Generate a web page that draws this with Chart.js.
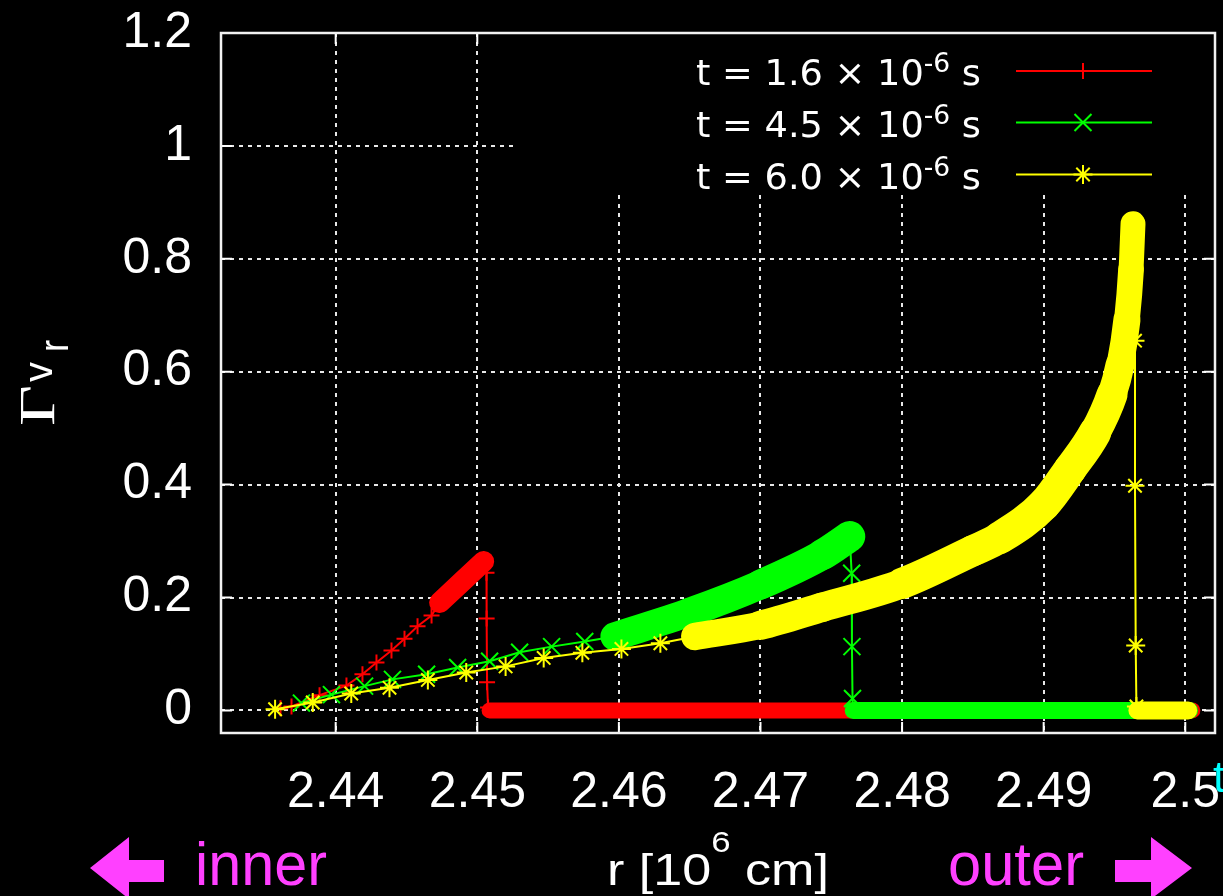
<!DOCTYPE html>
<html>
<head>
<meta charset="utf-8">
<script src="https://cdn.jsdelivr.net/npm/chart.js@4.4.1/dist/chart.umd.min.js"></script>
<style>
  html, body { margin: 0; padding: 0; background: #000; overflow: hidden; }
  canvas { display: block; background: #000; }
</style>
</head>
<body>
<canvas id="chart" width="1223" height="896"></canvas>
<script>
// axis ticks
const xTicks = [2.44, 2.45, 2.46, 2.47, 2.48, 2.49, 2.5];
const xTickLabels = ['2.44', '2.45', '2.46', '2.47', '2.48', '2.49', '2.5'];
const yTicks = [0, 0.2, 0.4, 0.6, 0.8, 1, 1.2];
const yTickLabels = ['0', '0.2', '0.4', '0.6', '0.8', '1', '1.2'];

const timeLabels = ['1.6', '4.5', '6.0'];

// t = 1.6e-6 s  (pre = sparse points, band = dense run, drop = shock jump, floor = dense run at 0)
const redPreR = [2.43610, 2.43688, 2.43886, 2.44076, 2.44189, 2.44288, 2.44394, 2.44486, 2.44578, 2.44677];
const redPreV = [0.004, 0.007, 0.027, 0.044, 0.064, 0.085, 0.106, 0.127, 0.149, 0.168];
const redBandR = [2.44734, 2.45045];
const redBandV = [0.191, 0.264];
const redDropR = [2.45065, 2.45066, 2.45069, 2.45076];
const redDropV = [0.244, 0.163, 0.050, 0.005];
const redFloorR = [2.45087, 2.50050];
const redFloorV = [0, 0];

// t = 4.5e-6 s
const greenPreR = [2.43758, 2.43970, 2.44204, 2.44401, 2.44642, 2.44861, 2.45087, 2.45299, 2.45525, 2.45759];
const greenPreV = [0.013, 0.028, 0.043, 0.055, 0.064, 0.076, 0.087, 0.103, 0.113, 0.122];
const greenBandR = [2.45970, 2.46500, 2.47001, 2.47439, 2.47630];
const greenBandV = [0.131, 0.174, 0.223, 0.276, 0.308];
const greenDropR = [2.47644, 2.47646, 2.47650];
const greenDropV = [0.243, 0.113, 0.021];
const greenFloorR = [2.47655, 2.50030];
const greenFloorV = [0, 0];

// t = 6.0e-6 s
const yellowPreR = [2.43572, 2.43838, 2.44110, 2.44380, 2.44651, 2.44922, 2.45200, 2.45469, 2.45742, 2.46018, 2.46293];
const yellowPreV = [0.002, 0.014, 0.030, 0.040, 0.054, 0.067, 0.078, 0.093, 0.102, 0.109, 0.119];
const yellowBandR = [2.46536, 2.47001, 2.47439, 2.48000, 2.48502, 2.48691, 2.49002, 2.49186, 2.49362, 2.49482, 2.49539, 2.49588, 2.49617, 2.49631];
const yellowBandV = [0.131, 0.151, 0.183, 0.225, 0.283, 0.306, 0.365, 0.427, 0.492, 0.559, 0.612, 0.692, 0.781, 0.862];
const yellowDropR = [2.49645, 2.49645, 2.49650, 2.49655];
const yellowDropV = [0.655, 0.398, 0.115, 0.007];
const yellowFloorR = [2.49662, 2.50020];
const yellowFloorV = [0, 0];

const RED = '#ff0000', GREEN = '#00ff00', YELLOW = '#ffff00', MAGENTA = '#ff40ff';

function pts(rs, vs, marked) {
  return rs.map((r, i) => ({ x: r, y: vs[i], m: marked }));
}

function thinLine(data, color, style, radius, order) {
  return {
    data: data,
    borderColor: color,
    borderWidth: 2,
    pointStyle: style,
    pointBorderColor: color,
    pointBackgroundColor: color,
    pointBorderWidth: 2,
    pointRadius: c => (c.raw && c.raw.m ? radius : 0),
    pointHoverRadius: 0,
    tension: 0,
    order: order
  };
}

// a dense run of markers looks like a thick stroke whose width depends on direction
function markerBandWidth(r) {
  return sc => {
    const dx = sc.p1.x - sc.p0.x, dy = sc.p1.y - sc.p0.y;
    const len = Math.hypot(dx, dy) || 1;
    return 2 * r * (Math.abs(dy) + Math.abs(dx)) / len + 2;
  };
}

function thickLine(data, color, width, order, widthFn) {
  const ds = {
    data: data,
    borderColor: color,
    borderWidth: width,
    pointRadius: 0,
    pointHoverRadius: 0,
    borderCapStyle: 'round',
    borderJoinStyle: 'round',
    cubicInterpolationMode: 'monotone',
    order: order
  };
  if (widthFn) ds.segment = { borderWidth: widthFn };
  return ds;
}

const datasets = [
  thinLine([...pts(redPreR, redPreV, true), ...pts(redBandR, redBandV, false),
    ...pts(redDropR, redDropV, true), ...pts(redFloorR, redFloorV, false)], RED, 'cross', 8, 9),
  thickLine(pts(redBandR, redBandV, false), RED, 21, 8),
  thickLine(pts(redFloorR, redFloorV, false), RED, 16, 7),
  thinLine([...pts(greenPreR, greenPreV, true), ...pts(greenBandR, greenBandV, false),
    ...pts(greenDropR, greenDropV, true), ...pts(greenFloorR, greenFloorV, false)], GREEN, 'crossRot', 12, 6),
  thickLine(pts(greenBandR, greenBandV, false), GREEN, 28, 5, markerBandWidth(10.5)),
  thickLine(pts(greenFloorR, greenFloorV, false), GREEN, 17, 4),
  thinLine([...pts(yellowPreR, yellowPreV, true), ...pts(yellowBandR, yellowBandV, false),
    ...pts(yellowDropR, yellowDropV, true), ...pts(yellowFloorR, yellowFloorV, false)], YELLOW, 'star', 9.5, 3),
  thickLine(pts(yellowBandR, yellowBandV, false), YELLOW, 28, 2, markerBandWidth(11)),
  thickLine(pts(yellowFloorR, yellowFloorV, false), YELLOW, 18, 1)
];

// text drawn at a given width (horizontal stretch)
function fitText(ctx, text, font, x, y, width) {
  ctx.font = font;
  const w = ctx.measureText(text).width;
  ctx.save();
  ctx.translate(x, y);
  ctx.scale(width ? width / w : 1, 1);
  ctx.fillText(text, 0, 0);
  ctx.restore();
}

function drawRuns(ctx, runs, x, base, width) {
  let w = 0;
  runs.forEach(r => { ctx.font = r.font; w += ctx.measureText(r.text).width; });
  ctx.save();
  ctx.translate(x, base);
  ctx.scale(width ? width / w : 1, 1);
  let cx = 0;
  runs.forEach(r => {
    ctx.font = r.font;
    ctx.fillText(r.text, cx, -(r.rise || 0));
    cx += ctx.measureText(r.text).width;
  });
  ctx.restore();
}

function marker(ctx, style, x, y, r) {
  ctx.beginPath();
  if (style === 'cross' || style === 'star') {
    ctx.moveTo(x - r, y); ctx.lineTo(x + r, y);
    ctx.moveTo(x, y - r); ctx.lineTo(x, y + r);
  }
  if (style === 'crossRot' || style === 'star') {
    const d = r * Math.SQRT1_2;
    ctx.moveTo(x - d, y - d); ctx.lineTo(x + d, y + d);
    ctx.moveTo(x - d, y + d); ctx.lineTo(x + d, y - d);
  }
  ctx.stroke();
}

const decor = {
  id: 'decor',
  beforeDatasetsDraw(chart) {
    const { ctx, chartArea: a, scales: { x, y } } = chart;
    ctx.save();
    ctx.strokeStyle = '#ffffff';
    ctx.lineWidth = 2;
    ctx.beginPath();
    xTicks.forEach(v => {
      const px = x.getPixelForValue(v);
      ctx.moveTo(px, a.bottom); ctx.lineTo(px, a.bottom - 11);
      ctx.moveTo(px, a.top); ctx.lineTo(px, a.top + 11);
    });
    yTicks.forEach(v => {
      const py = y.getPixelForValue(v);
      ctx.moveTo(a.left, py); ctx.lineTo(a.left + 11, py);
      ctx.moveTo(a.right, py); ctx.lineTo(a.right - 11, py);
    });
    ctx.stroke();
    // opaque key box
    ctx.fillStyle = '#000';
    ctx.fillRect(515, a.top + 1, a.right - 516, 158);
    ctx.restore();
  },
  afterDraw(chart) {
    const { ctx, chartArea: a } = chart;
    ctx.save();

    // frame
    ctx.strokeStyle = '#f2f2f2';
    ctx.lineWidth = 2.5;
    ctx.strokeRect(a.left, a.top, a.right - a.left, a.bottom - a.top);

    // key
    const colors = [RED, GREEN, YELLOW];
    const styles = ['cross', 'crossRot', 'star'];
    const radii = [8, 12, 9.5];
    const rows = [71, 122.5, 174.5];
    ctx.textBaseline = 'alphabetic';
    timeLabels.forEach((lbl, i) => {
      ctx.fillStyle = '#ffffff';
      drawRuns(ctx, [
        { text: 't = ' + lbl + ' \u00d7 10', font: '36px "DejaVu Sans"' },
        { text: '-6', font: '26px "DejaVu Sans"', rise: 13 },
        { text: ' s', font: '36px "DejaVu Sans"' }
      ], 696, rows[i] + 14, 285);
      ctx.strokeStyle = colors[i];
      ctx.lineWidth = 2;
      ctx.beginPath();
      ctx.moveTo(1016, rows[i]); ctx.lineTo(1152, rows[i]);
      ctx.stroke();
      marker(ctx, styles[i], 1083, rows[i], radii[i]);
    });

    // y title
    ctx.fillStyle = '#ffffff';
    ctx.save();
    ctx.translate(54, 426);
    ctx.rotate(-Math.PI / 2);
    fitText(ctx, '\u0393', '50px "Liberation Serif"', 0, 0, 41);
    fitText(ctx, 'v', '40px "Liberation Sans"', 44, -2, 20);
    fitText(ctx, 'r', '40px "Liberation Sans"', 74, 14, 12);
    ctx.restore();

    // bottom row
    ctx.fillStyle = MAGENTA;
    fitText(ctx, 'inner', '62px "Liberation Sans"', 195, 885, 132);
    fitText(ctx, 'outer', '62px "Liberation Sans"', 948, 885, 136);
    ctx.fillStyle = '#ffffff';
    drawRuns(ctx, [
      { text: 'r [10', font: '45px "Liberation Sans"' },
      { text: '6', font: '30px "Liberation Sans"', rise: 33 },
      { text: ' cm]', font: '45px "Liberation Sans"' }
    ], 607, 885, 222);

    // arrows
    ctx.fillStyle = MAGENTA;
    ctx.beginPath();
    ctx.moveTo(90, 868); ctx.lineTo(129, 837); ctx.lineTo(129, 860); ctx.lineTo(164, 860);
    ctx.lineTo(164, 882); ctx.lineTo(129, 882); ctx.lineTo(129, 899); ctx.closePath();
    ctx.fill();
    ctx.beginPath();
    ctx.moveTo(1192, 868); ctx.lineTo(1151, 837); ctx.lineTo(1151, 860); ctx.lineTo(1115, 860);
    ctx.lineTo(1115, 882); ctx.lineTo(1151, 882); ctx.lineTo(1151, 899); ctx.closePath();
    ctx.fill();

    // clipped cyan label at the right edge
    ctx.fillStyle = '#00ffff';
    ctx.font = '44px "Liberation Sans"';
    ctx.fillText('t', 1213, 792);
    ctx.restore();
  }
};

new Chart(document.getElementById('chart'), {
  type: 'line',
  data: { datasets: datasets },
  options: {
    responsive: false,
    animation: false,
    events: [],
    devicePixelRatio: 1,
    layout: { autoPadding: false, padding: { top: 33, right: 8, left: 0, bottom: 0 } },
    plugins: { legend: { display: false }, tooltip: { enabled: false } },
    scales: {
      x: {
        type: 'linear',
        min: 2.4319,
        max: 2.5021,
        afterBuildTicks: s => { s.ticks = xTicks.map(v => ({ value: v })); },
        afterFit: s => { s.height = 163; s.paddingLeft = 0; s.paddingRight = 0; },
        ticks: {
          color: '#ffffff',
          font: { family: 'Liberation Sans', size: 50 },
          padding: 30,
          maxRotation: 0,
          minRotation: 0,
          autoSkip: false,
          callback: (v, i) => xTickLabels[i]
        },
        grid: { color: '#e8e8e8', lineWidth: 2, drawTicks: false },
        border: { display: false, dash: [4, 5] }
      },
      y: {
        type: 'linear',
        min: -0.04,
        max: 1.2,
        afterBuildTicks: s => { s.ticks = yTicks.map(v => ({ value: v })); },
        afterFit: s => { s.width = 221; s.paddingTop = 0; s.paddingBottom = 0; },
        ticks: {
          color: '#ffffff',
          font: { family: 'Liberation Sans', size: 50 },
          padding: 29,
          autoSkip: false,
          callback: (v, i) => yTickLabels[i]
        },
        grid: { color: '#e8e8e8', lineWidth: 2, drawTicks: false },
        border: { display: false, dash: [4, 5] }
      }
    }
  },
  plugins: [decor]
});
</script>
</body>
</html>
